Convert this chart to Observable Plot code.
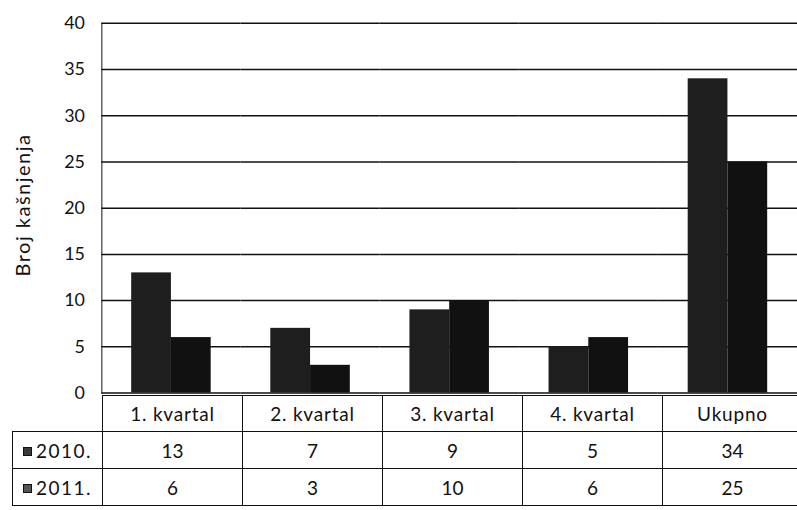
<!DOCTYPE html>
<html>
<head>
<meta charset="utf-8">
<script src="https://cdn.jsdelivr.net/npm/d3@7"></script>
<script src="https://cdn.jsdelivr.net/npm/@observablehq/plot@0.6"></script>
<style>
  html, body { margin: 0; padding: 0; background: #fff; overflow: hidden; }
  #wrap { position: relative; width: 797px; height: 510px; overflow: hidden; font-family: Lato, "Open Sans", sans-serif; color: #111; }
  #chart { position: absolute; left: 0; top: 0; }
  #ylab { position: absolute; left: 22px; top: 205px; transform: translate(-50%, -50%) rotate(-90deg); white-space: nowrap; font-size: 20px; letter-spacing: 1.5px; line-height: 1; }
  #tbl { position: absolute; left: 12px; top: 395px; border-collapse: collapse; table-layout: fixed; font-size: 19px; }
  #tbl td { border: 1.5px solid #111; text-align: center; padding: 0; }
  #tbl tr.head td { letter-spacing: 0.8px; }
  #tbl td.blank { border: none; }
  #tbl td.leg { text-align: left; padding-left: 10px; letter-spacing: 1.5px; }
  .sw { display: inline-block; width: 7px; height: 7px; margin-right: 4px; vertical-align: 2px; border: 1px solid #111; }
</style>
</head>
<body>
<div id="wrap">
  <div id="chart"></div>
  <div id="ylab"></div>
  <table id="tbl"></table>
</div>
<script>
const categories = ["1. kvartal", "2. kvartal", "3. kvartal", "4. kvartal", "Ukupno"];
const series = ["2010.", "2011."];
const values2010 = [13, 7, 9, 5, 34];
const values2011 = [6, 3, 10, 6, 25];
const yTicks = [0, 5, 10, 15, 20, 25, 30, 35, 40];
const yLabel = "Broj kašnjenja";
const colors = ["#1e1e1e", "#111111"];
const swatchColors = ["#3a3a3a", "#555555"];

const data = categories.flatMap((c, i) => [
  {cat: c, year: series[0], value: values2010[i]},
  {cat: c, year: series[1], value: values2011[i]}
]);

const chart = Plot.plot({
  width: 802,
  height: 408,
  marginLeft: 102,
  marginRight: 0,
  marginTop: 23,
  marginBottom: 13,
  style: {fontFamily: "Lato, 'Open Sans', sans-serif", fontSize: "18px", color: "#111", background: "transparent", overflow: "visible"},
  fx: {domain: categories, padding: 0, axis: null},
  x: {domain: series, paddingInner: 0, paddingOuter: 0.75, axis: null},
  y: {domain: [0, 40], ticks: yTicks, tickSize: 0, tickPadding: 17, line: true, label: null},
  color: {domain: series, range: colors},
  marks: [
    Plot.ruleY(yTicks, {stroke: "#111", strokeWidth: 1.5}),
    Plot.barY(data, {fx: "cat", x: "year", y: "value", fill: "year"})
  ]
});
document.getElementById("chart").appendChild(chart);
document.getElementById("ylab").textContent = yLabel;

// data table below the chart
const tbl = d3.select("#tbl");
const colg = tbl.append("colgroup");
colg.append("col").style("width", "90px");
categories.forEach(() => colg.append("col").style("width", "140px"));
tbl.style("width", (90 + 140 * categories.length) + "px");

const r0 = tbl.append("tr").attr("class", "head").style("height", "36px");
r0.append("td").attr("class", "blank");
categories.forEach(c => r0.append("td").text(c));

[values2010, values2011].forEach((vals, si) => {
  const r = tbl.append("tr").style("height", "37px");
  const lc = r.append("td").attr("class", "leg");
  lc.append("span").attr("class", "sw").style("background", swatchColors[si]);
  lc.append("span").text(series[si]);
  vals.forEach(v => r.append("td").text(v));
});
</script>
</body>
</html>
